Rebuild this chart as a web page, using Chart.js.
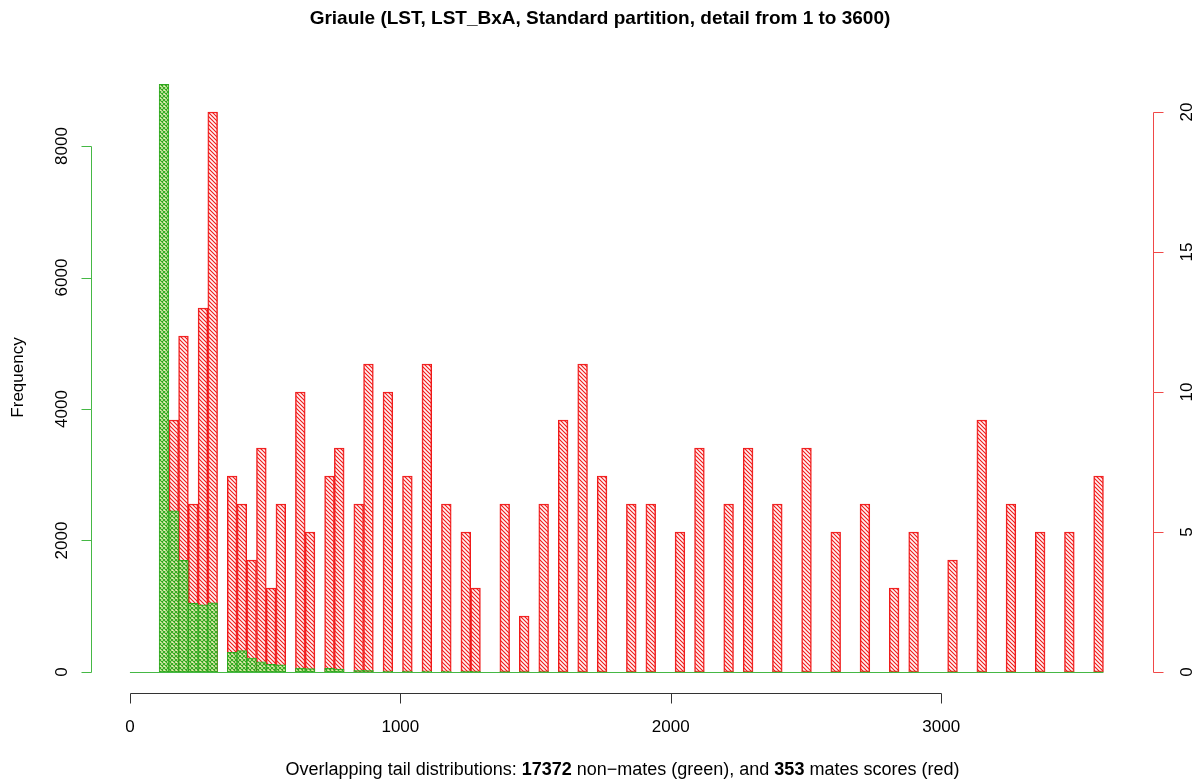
<!DOCTYPE html>
<html>
<head>
<meta charset="utf-8">
<script src="https://cdn.jsdelivr.net/npm/chart.js@4"></script>
<style>
  html, body { margin: 0; padding: 0; background: #fff; }
  #wrap { width: 1201px; height: 784px; }
</style>
</head>
<body>
<div id="wrap"><canvas id="hist" width="1201" height="784"></canvas></div>
<script>
// histogram bins: 100 bins of width 36 over 0..3600 (mid points)
const binWidth = 36;
const binMids = [
  18, 54, 90, 126, 162, 198, 234, 270, 306, 342,
  378, 414, 450, 486, 522, 558, 594, 630, 666, 702,
  738, 774, 810, 846, 882, 918, 954, 990, 1026, 1062,
  1098, 1134, 1170, 1206, 1242, 1278, 1314, 1350, 1386, 1422,
  1458, 1494, 1530, 1566, 1602, 1638, 1674, 1710, 1746, 1782,
  1818, 1854, 1890, 1926, 1962, 1998, 2034, 2070, 2106, 2142,
  2178, 2214, 2250, 2286, 2322, 2358, 2394, 2430, 2466, 2502,
  2538, 2574, 2610, 2646, 2682, 2718, 2754, 2790, 2826, 2862,
  2898, 2934, 2970, 3006, 3042, 3078, 3114, 3150, 3186, 3222,
  3258, 3294, 3330, 3366, 3402, 3438, 3474, 3510, 3546, 3582
];

// non-mates (green, left axis)
const nonMates = [
  0, 0, 0, 8940, 2450, 1700, 1045, 1020, 1050, 0,
  300, 325, 210, 155, 115, 110, 0, 60, 50, 0,
  55, 45, 0, 25, 25, 0, 15, 0, 15, 0,
  12, 0, 10, 0, 8, 8, 0, 0, 6, 0,
  5, 0, 5, 0, 4, 0, 4, 0, 3, 0,
  0, 3, 0, 3, 0, 0, 2, 0, 2, 0,
  0, 2, 0, 2, 0, 0, 1, 0, 0, 1,
  0, 0, 1, 0, 0, 1, 0, 0, 1, 0,
  1, 0, 0, 0, 1, 0, 0, 1, 0, 0,
  1, 0, 0, 1, 0, 0, 1, 0, 0, 1
];

// mates (red, right axis)
const mates = [
  0, 0, 0, 0, 9, 12, 6, 13, 20, 0,
  7, 6, 4, 8, 3, 6, 0, 10, 5, 0,
  7, 8, 0, 6, 11, 0, 10, 0, 7, 0,
  11, 0, 6, 0, 5, 3, 0, 0, 6, 0,
  2, 0, 6, 0, 9, 0, 11, 0, 7, 0,
  0, 6, 0, 6, 0, 0, 5, 0, 8, 0,
  0, 6, 0, 8, 0, 0, 6, 0, 0, 8,
  0, 0, 5, 0, 0, 6, 0, 0, 3, 0,
  5, 0, 0, 0, 4, 0, 0, 9, 0, 0,
  6, 0, 0, 5, 0, 0, 5, 0, 0, 7
];

const xTicks = [0, 1000, 2000, 3000];
const leftTicks = [0, 2000, 4000, 6000, 8000];
const rightTicks = [0, 5, 10, 15, 20];

const titleText = 'Griaule (LST, LST_BxA, Standard partition, detail from 1 to 3600)';
// x label pieces: [text, bold]
const xLabelParts = [
  ['Overlapping tail distributions: ', false],
  ['17372', true],
  [' non\u2212mates (green), and ', false],
  ['353', true],
  [' mates scores (red)', false]
];
const yLabel = 'Frequency';

const colors = {
  green: '#2fa81f',
  greenAxis: '#45b845',
  greenBg: 'rgba(232,240,175,0.85)',
  red: '#f01818',
  redAxis: '#f04848',
  redBg: 'rgba(255,225,225,0.35)',
  axis: '#333',
  text: '#000'
};
const font = '"Liberation Sans", Arial, Helvetica, sans-serif';

// R-like shading: diagonal lines, optionally cross-hatched
function hatch(color, bg, cross) {
  const s = 4;
  const c = document.createElement('canvas');
  c.width = s; c.height = s;
  const g = c.getContext('2d');
  if (bg) { g.fillStyle = bg; g.fillRect(0, 0, s, s); }
  g.strokeStyle = color;
  g.lineWidth = 1.1;
  g.beginPath();
  for (let k = -s; k <= s; k += s) {
    g.moveTo(k - 1, -1); g.lineTo(k + s + 1, s + 1);
    if (cross) { g.moveTo(k - 1, s + 1); g.lineTo(k + s + 1, -1); }
  }
  g.stroke();
  return g.createPattern(c, 'repeat');
}

function vText(ctx, txt, x, y) {
  ctx.save();
  ctx.translate(x, y);
  ctx.rotate(-Math.PI / 2);
  ctx.fillText(txt, 0, 0);
  ctx.restore();
}

// mixed regular/bold line, centred on cx
function partsText(ctx, parts, cx, y, size) {
  const fonts = parts.map(p => (p[1] ? 'bold ' : '') + size + 'px ' + font);
  const widths = parts.map((p, i) => { ctx.font = fonts[i]; return ctx.measureText(p[0]).width; });
  let x = cx - widths.reduce((a, w) => a + w, 0) / 2;
  ctx.textAlign = 'left';
  parts.forEach((p, i) => { ctx.font = fonts[i]; ctx.fillText(p[0], x, y); x += widths[i]; });
  ctx.textAlign = 'center';
}

const rAxes = {
  id: 'rAxes',
  afterDatasetsDraw(chart) {
    const { ctx, scales: { x, y } } = chart;
    const y0 = Math.round(y.getPixelForValue(0)) + 0.5;
    ctx.save();
    ctx.strokeStyle = colors.greenAxis;
    ctx.lineWidth = 1.2;
    ctx.beginPath();
    ctx.moveTo(x.getPixelForValue(binMids[0] - binWidth / 2), y0);
    ctx.lineTo(x.getPixelForValue(binMids[binMids.length - 1] + binWidth / 2), y0);
    ctx.stroke();
    ctx.restore();
  },
  afterDraw(chart) {
    const { ctx, chartArea: area, scales: { x, y, y2 } } = chart;
    const tick = 10;
    ctx.save();
    ctx.lineWidth = 1;
    ctx.fillStyle = colors.text;
    ctx.textAlign = 'center';
    ctx.textBaseline = 'middle';

    // bottom axis
    const by = Math.round(area.bottom) - 0.5;
    ctx.strokeStyle = colors.axis;
    ctx.beginPath();
    ctx.moveTo(Math.round(x.getPixelForValue(xTicks[0])) + 0.5, by);
    ctx.lineTo(Math.round(x.getPixelForValue(xTicks[xTicks.length - 1])) + 0.5, by);
    xTicks.forEach(v => {
      const px = Math.round(x.getPixelForValue(v)) + 0.5;
      ctx.moveTo(px, by); ctx.lineTo(px, by + tick);
    });
    ctx.stroke();
    ctx.font = '17px ' + font;
    xTicks.forEach(v => ctx.fillText(String(v), x.getPixelForValue(v), by + 34));

    // left axis (green)
    const lx = Math.round(area.left) + 0.5;
    ctx.strokeStyle = colors.greenAxis;
    ctx.beginPath();
    ctx.moveTo(lx, Math.round(y.getPixelForValue(leftTicks[0])) + 0.5);
    ctx.lineTo(lx, Math.round(y.getPixelForValue(leftTicks[leftTicks.length - 1])) + 0.5);
    leftTicks.forEach(v => {
      const py = Math.round(y.getPixelForValue(v)) + 0.5;
      ctx.moveTo(lx, py); ctx.lineTo(lx - tick, py);
    });
    ctx.stroke();
    leftTicks.forEach(v => vText(ctx, String(v), lx - 29, y.getPixelForValue(v)));

    // right axis (red)
    const rx = Math.round(area.right) - 0.5;
    ctx.strokeStyle = colors.redAxis;
    ctx.beginPath();
    ctx.moveTo(rx, Math.round(y2.getPixelForValue(rightTicks[0])) + 0.5);
    ctx.lineTo(rx, Math.round(y2.getPixelForValue(rightTicks[rightTicks.length - 1])) + 0.5);
    rightTicks.forEach(v => {
      const py = Math.round(y2.getPixelForValue(v)) + 0.5;
      ctx.moveTo(rx, py); ctx.lineTo(rx + tick, py);
    });
    ctx.stroke();
    rightTicks.forEach(v => vText(ctx, String(v), rx + 34, y2.getPixelForValue(v)));

    // titles
    const cx = (area.left + area.right) / 2;
    ctx.font = 'bold 19px ' + font;
    ctx.fillText(titleText, 600, 19);
    partsText(ctx, xLabelParts, cx, 770, 18);
    ctx.font = '17px ' + font;
    vText(ctx, yLabel, 18, (area.top + area.bottom) / 2);
    ctx.restore();
  }
};

const pts = vals => binMids.map((m, i) => ({ x: m, y: vals[i] }));

new Chart(document.getElementById('hist').getContext('2d'), {
  type: 'bar',
  data: {
    datasets: [
      {
        label: 'non-mates',
        data: pts(nonMates),
        yAxisID: 'y',
        backgroundColor: hatch(colors.green, colors.greenBg, true),
        borderColor: colors.green,
        borderWidth: 1,
        borderSkipped: false,
        grouped: false,
        barPercentage: 1,
        categoryPercentage: 1
      },
      {
        label: 'mates',
        data: pts(mates),
        yAxisID: 'y2',
        backgroundColor: hatch(colors.red, colors.redBg, false),
        borderColor: colors.red,
        borderWidth: 1,
        borderSkipped: false,
        grouped: false,
        barPercentage: 1,
        categoryPercentage: 1
      }
    ]
  },
  options: {
    responsive: false,
    animation: false,
    layout: { padding: { left: 91, right: 47, top: 61, bottom: 90 } },
    plugins: { legend: { display: false }, title: { display: false }, tooltip: { enabled: false } },
    scales: {
      x: { type: 'linear', display: false, offset: false, min: -144, max: 3787 },
      y: { display: false, min: -335, max: 9293 },
      y2: { display: false, position: 'right', min: -0.786, max: 21.82 }
    }
  },
  plugins: [rAxes]
});
</script>
</body>
</html>
